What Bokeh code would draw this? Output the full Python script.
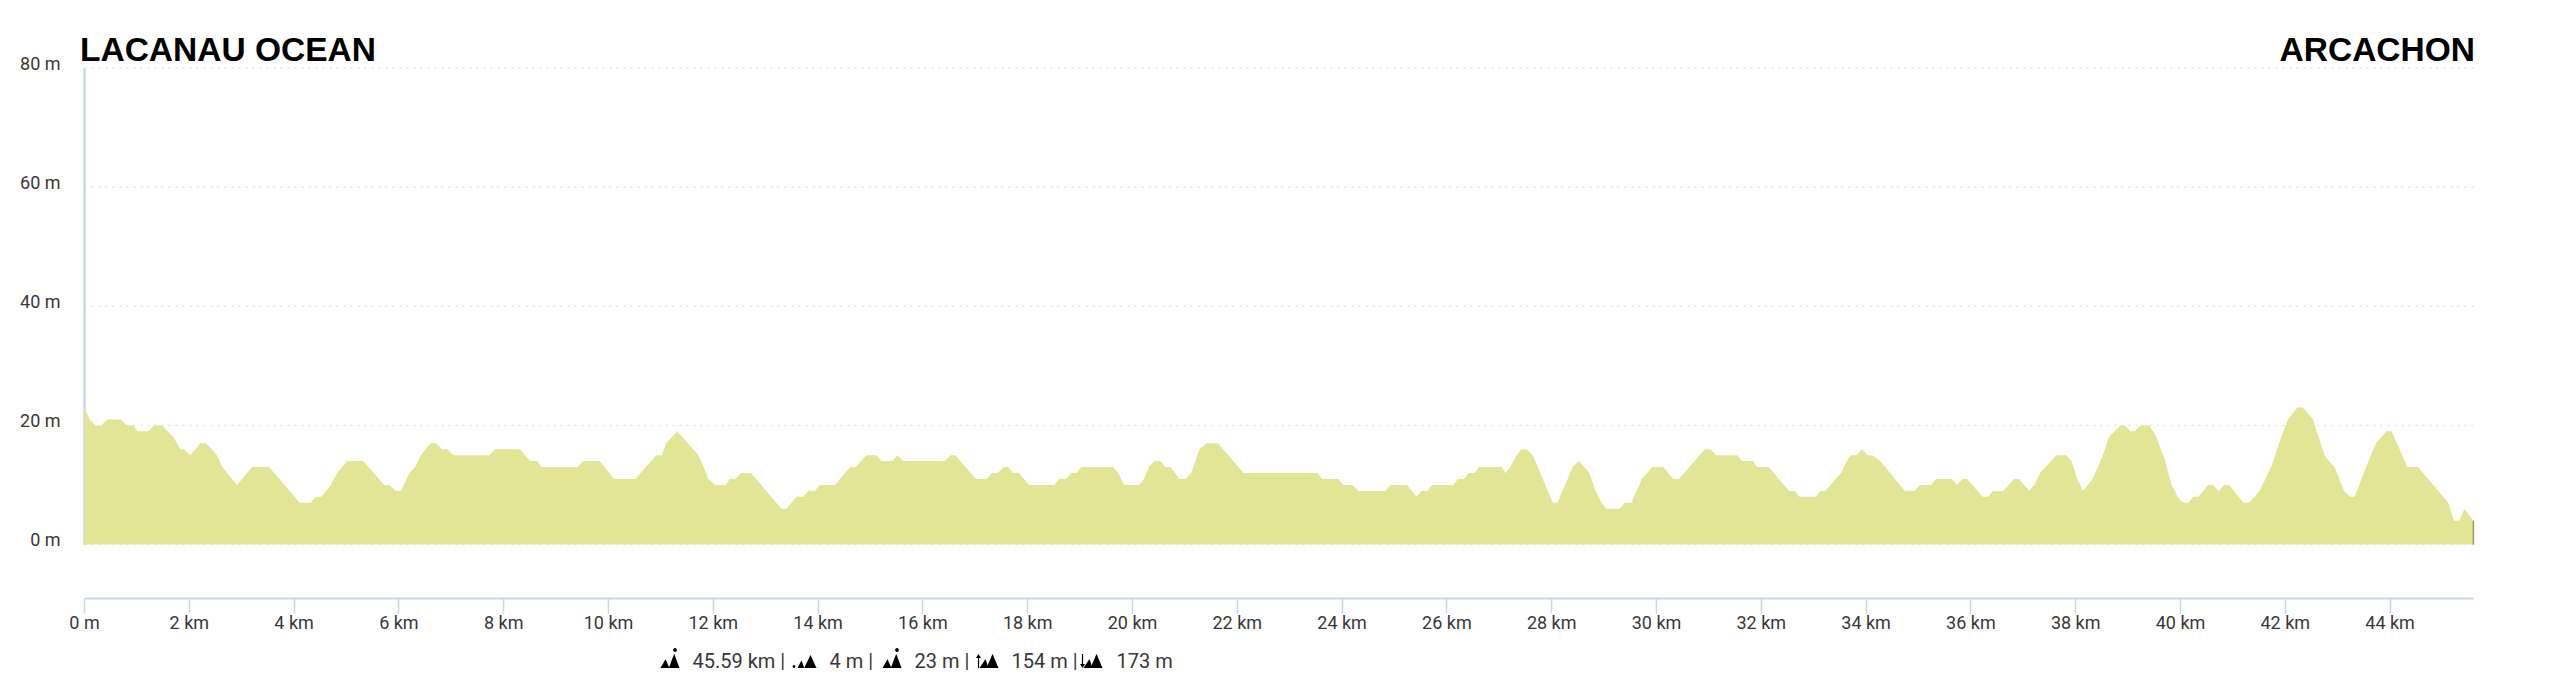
import numpy as np
from bokeh.core.properties import value
from bokeh.embed import file_html
from bokeh.layouts import column
from bokeh.models import (FixedTicker, Label, LinearAxis, Range1d)
from bokeh.plotting import figure
from bokeh.resources import INLINE

# ---- data -----------------------------------------------------------------
km_a = [0, 0.10, 0.21, 0.32, 0.43, 0.70, 0.81, 0.94, 1.01, 1.23, 1.32, 1.48, 1.70, 1.83, 1.90, 2.02, 2.21, 2.32,
        2.53, 2.63, 2.91, 3.20, 3.52, 4.11, 4.32, 4.41, 4.52, 4.70, 4.82, 5.01, 5.32, 5.72, 5.82, 5.94, 6.04, 6.20,
        6.31, 6.42, 6.60, 6.71, 6.82, 6.93, 7.04, 7.72, 7.84, 8.31, 8.50, 8.64, 8.72, 9.41, 9.52, 9.83, 10.11,
        10.51, 10.91, 11.02, 11.10, 11.31]
elev_a = [23, 21, 20, 20, 21, 21, 20, 20, 19, 19, 20, 20, 18, 16, 16, 15, 17, 17,
          15, 13, 10, 13, 13, 7, 7, 8, 8, 10, 12, 14, 14, 10, 10, 9, 9, 12,
          13, 15, 17, 17, 16, 16, 15, 15, 16, 16, 14, 14, 13, 13, 14, 14, 11,
          11, 15, 15, 17, 19]
km_b = [11.72, 11.91, 12.04, 12.24, 12.31, 12.42, 12.53, 12.72, 13.30, 13.40, 13.59, 13.72, 13.81, 13.94, 14.03,
        14.32, 14.61, 14.72, 14.92, 15.11, 15.21, 15.42, 15.51, 15.62, 16.42, 16.53, 16.62, 17.01, 17.22, 17.32,
        17.43, 17.54, 17.63, 17.72, 17.83, 18.03, 18.51, 18.60, 18.73, 18.83, 18.93, 19.02, 19.63, 19.73, 19.84,
        20.12, 20.22, 20.31, 20.42, 20.53, 20.63, 20.72, 20.90, 21.01, 21.12, 21.28, 21.41, 21.63, 22.12]
elev_b = [15, 11, 10, 10, 11, 11, 12, 12, 6, 6, 8, 8, 9, 9, 10,
          10, 13, 13, 15, 15, 14, 14, 15, 14, 14, 15, 15, 11, 11, 12,
          12, 13, 13, 12, 12, 10, 10, 11, 11, 12, 12, 13, 13, 12, 10,
          10, 11, 13, 14, 14, 13, 13, 11, 11, 12, 16, 17, 17, 12]
km_c = [23.53, 23.62, 23.93, 24.02, 24.20, 24.31, 24.82, 24.93, 25.24, 25.42, 25.52, 25.63, 25.72, 26.12, 26.21,
        26.32, 26.42, 26.53, 26.61, 27.04, 27.12, 27.21, 27.33, 27.42, 27.53, 27.64, 28.02, 28.11, 28.40, 28.52,
        28.72, 28.84, 28.95, 29.04, 29.30, 29.40, 29.52, 29.72, 29.92, 30.13, 30.32, 30.43, 30.92, 31.03, 31.14,
        31.54, 31.63, 31.84, 31.92, 32.14, 32.53, 32.64, 32.73, 33.04, 33.13, 33.22, 33.52, 33.63, 33.71, 33.82,
        33.92, 34.03, 34.12]
elev_c = [12, 11, 11, 10, 10, 9, 9, 10, 10, 8, 9, 9, 10, 10, 11,
          11, 12, 12, 13, 13, 12, 13, 15, 16, 16, 15, 7, 7, 13, 14,
          12, 9, 7, 6, 6, 7, 7, 11, 13, 13, 11, 11, 16, 16, 15,
          15, 14, 14, 13, 13, 9, 9, 8, 8, 9, 9, 12, 14, 15, 15,
          16, 15, 15]
km_d = [34.27, 34.74, 34.92, 35.03, 35.23, 35.34, 35.64, 35.73, 35.84, 35.93, 36.22, 36.33, 36.42, 36.62, 36.82,
        36.92, 37.11, 37.21, 37.32, 37.63, 37.82, 37.92, 38.03, 38.14, 38.32, 38.52, 38.63, 38.85, 38.94, 39.04,
        39.12, 39.23, 39.41, 39.54, 39.71, 39.83, 39.98, 40.07, 40.15, 40.24, 40.34, 40.53, 40.62, 40.73, 40.83,
        40.93, 41.20, 41.31, 41.51, 41.73, 41.92, 42.05, 42.23, 42.34, 42.53, 42.75, 42.83, 42.94, 43.12, 43.24,
        43.32, 43.41, 43.54, 43.73, 43.93, 44.03, 44.33, 44.53, 45.11, 45.22, 45.32, 45.42, 45.59]
elev_d = [14, 9, 9, 10, 10, 11, 11, 10, 11, 11, 8, 8, 9, 9, 11,
          11, 9, 10, 12, 15, 15, 14, 11, 9, 11, 15, 18, 20, 20, 19,
          19, 20, 20, 18, 14, 10, 7.5, 7, 7, 8, 8, 10, 10, 9, 10,
          10, 7, 7, 9, 13, 18, 21, 23, 23, 21, 15, 14, 13, 9, 8,
          8, 10, 13, 17, 19, 19, 13, 13, 7, 4, 4, 6, 4]

x_ticks = list(range(0, 45, 2))
x_tick_labels = ["0 m"] + [f"{k} km" for k in x_ticks[1:]]
y_ticks = [0, 20, 40, 60, 80]
y_tick_labels = ["0 m", "20 m", "40 m", "60 m", "80 m"]
title_left = "LACANAU OCEAN"
title_right = "ARCACHON"
stats = ["45.59 km |", "4 m |", "23 m |", "154 m |", "173 m"]

km = km_a + km_b + km_c + km_d
elev = elev_a + elev_b + elev_c + elev_d

# ---- layout ---------------------------------------------------------------
PX_KM, PX_M = 52.4, 5.956
PAGE_X0, PAGE_Y0 = 84.0, 544.0   # picture pixel of km 0 and of 0 m
FRAME_LEFT, FRAME_RIGHT = 70, 2484
FRAME_TOP, FRAME_BOTTOM = 16, 598
W, H1, H2 = 2544, 640, 35

def xd(px):
    return (px - PAGE_X0) / PX_KM

def yd(py):
    return (PAGE_Y0 - py) / PX_M

y0, y1 = yd(FRAME_BOTTOM), yd(FRAME_TOP)
p = figure(width=W, height=H1, output_backend="svg", toolbar_location=None,
           x_range=Range1d(xd(FRAME_LEFT), xd(FRAME_RIGHT)), y_range=Range1d(y0, y1),
           x_axis_location=None, y_axis_location=None,
           min_border_left=FRAME_LEFT, min_border_right=W - FRAME_RIGHT,
           min_border_top=FRAME_TOP, min_border_bottom=H1 - FRAME_BOTTOM)
p.outline_line_color = None
p.background_fill_color = "#ffffff"
p.border_fill_color = "#ffffff"
p.grid.visible = False

FONT = "Roboto"
TXT = "#383838"

# dotted horizontal grid, only as wide as the plotted distance
p.segment(x0=[0] * len(y_ticks), y0=y_ticks, x1=[km[-1]] * len(y_ticks), y1=y_ticks,
          line_color="#e2e2e2", line_dash="2 5", line_width=1.5)

xax = LinearAxis(ticker=FixedTicker(ticks=x_ticks), bounds=(0, km[-1]),
                 major_label_overrides=dict(zip(x_ticks, x_tick_labels)),
                 axis_line_color="#ccd6eb", axis_line_width=2,
                 major_tick_line_color="#ccd6eb", major_tick_line_width=1.5,
                 major_tick_in=0, major_tick_out=15, minor_tick_line_color=None,
                 major_label_standoff=-2, major_label_text_font=FONT,
                 major_label_text_font_size="18px", major_label_text_color=TXT)
p.add_layout(xax, "below")

SHIFT = 5 / PX_M
p.extra_y_ranges = {"labels": Range1d(y0 - SHIFT, y1 - SHIFT)}
yax = LinearAxis(y_range_name="labels", ticker=FixedTicker(ticks=y_ticks),
                 major_label_overrides=dict(zip(y_ticks, y_tick_labels)),
                 axis_line_color=None, major_tick_line_color=None, minor_tick_line_color=None,
                 major_tick_in=0, major_tick_out=0, major_label_standoff=10,
                 major_label_text_font=FONT, major_label_text_font_size="18px",
                 major_label_text_color=TXT)
p.add_layout(yax, "left")

p.line([0, 0], [y_ticks[0], y_ticks[-1]], line_color="#c9d8e4", line_width=2.5)
p.varea(x=km, y1=[0] * len(km), y2=elev, fill_color="#e3e596")
p.line([km[-1], km[-1]], [0, elev[-1]], line_color="#9b9862", line_width=1.5)

# ---- titles ---------------------------------------------------------------
p.add_layout(Label(x=xd(79.5), y=yd(49), text=title_left, text_font="Liberation Sans", text_font_style="bold",
                   text_font_size="33.5px", text_color="#000000", text_baseline="middle", text_align="left"))
p.add_layout(Label(x=xd(2474.5), y=yd(49), text=title_right, text_font="Liberation Sans", text_font_style="bold",
                   text_font_size="33.5px", text_color="#000000", text_baseline="middle", text_align="right"))

# ---- stats line: a strip below the chart, its scales are picture pixels ----
# (the column lines its frame up with the chart's frame)
q = figure(width=W, height=H2, output_backend="svg", toolbar_location=None,
           x_range=Range1d(FRAME_LEFT, FRAME_RIGHT), y_range=Range1d(H1 + H2, H1),
           x_axis_location=None, y_axis_location=None,
           min_border_left=FRAME_LEFT, min_border_right=W - FRAME_RIGHT, min_border_top=0, min_border_bottom=0)
q.outline_line_color = None
q.grid.visible = False

BASE = 667.5
stat_x = [692, 829, 914, 1011, 1116]
q.text(x=stat_x, y=[660] * len(stats), text=stats, text_font=value(FONT), text_font_size="20px",
       text_color=TXT, text_baseline="middle", text_align="left")

icon_xs, icon_ys = [], []

def poly(pts):
    icon_xs.append([a for a, _ in pts])
    icon_ys.append([b for _, b in pts])

def tri(l, r, ax, h):
    poly([(l, BASE), (r, BASE), (ax, BASE - h)])

def dot(cx, cy, rad):
    a = np.linspace(0, 2 * np.pi, 12, endpoint=False)
    poly([(cx + rad * np.cos(t), cy + rad * np.sin(t)) for t in a])

def peak_icon(L):
    tri(L, L + 9, L + 5, 8.7)
    tri(L + 8.3, L + 19, L + 13.7, 14.3)
    dot(L + 14.5, BASE - 18, 1.9)

peak_icon(660)
# low-point icon
L = 792
dot(L + 1.5, BASE - 1.5, 1.4)
tri(L + 5, L + 11.7, L + 9, 7.7)
tri(L + 11.7, L + 24, L + 18, 13)
peak_icon(882)
# ascent icon
L = 975
poly([(L + 2.4, BASE), (L + 3.6, BASE), (L + 3.6, BASE - 10), (L + 5.5, BASE - 10), (L + 3, BASE - 14), (L + 0.5, BASE - 10), (L + 2.4, BASE - 10)])
tri(L + 4, L + 13, L + 10, 9)
tri(L + 11, L + 23, L + 17, 14)
# descent icon
L = 1079
poly([(L + 2.4, BASE - 14), (L + 3.6, BASE - 14), (L + 3.6, BASE - 4), (L + 5.5, BASE - 4), (L + 3, BASE), (L + 0.5, BASE - 4), (L + 2.4, BASE - 4)])
tri(L + 4, L + 13, L + 10, 9)
tri(L + 11, L + 23, L + 17, 14)
q.patches(icon_xs, icon_ys, fill_color="#000000", line_color=None)

open("out.html", "w").write(file_html(column(p, q, spacing=0), INLINE))
